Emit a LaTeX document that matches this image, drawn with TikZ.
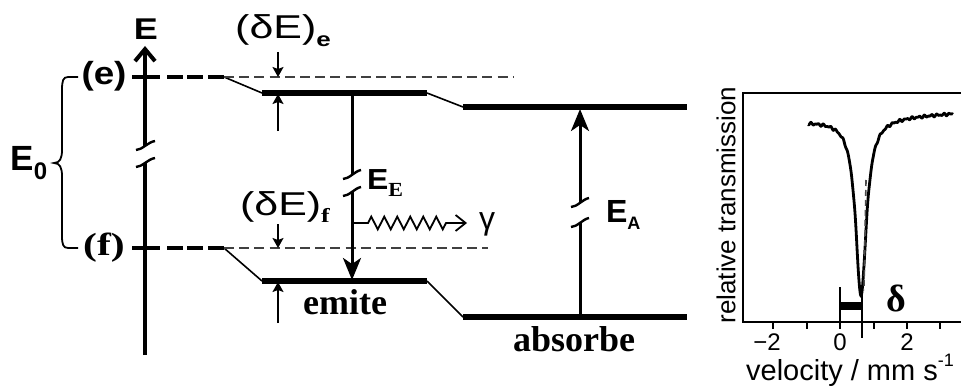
\documentclass[tikz,border=0pt]{standalone}
\usepackage{fontspec}
\setmainfont{Liberation Serif}
\setsansfont{Liberation Sans}
\usetikzlibrary{arrows.meta,decorations.pathmorphing}
\newcommand\fs[1]{\fontsize{#1}{#1}\selectfont}
\newcommand\lowsub[2]{\raisebox{-0.45ex}{\fontsize{#1}{#1}\selectfont #2}}
\newcommand\wide[2]{\scalebox{#1}[1]{#2}}
\tikzset{
  level/.style={line width=2.8pt},
  stub/.style={line width=2pt},
  thickdash/.style={line width=2.2pt, dash pattern=on 8pt off 2.2pt},
  thindash/.style={line width=0.7pt, black!75, dash pattern=on 5pt off 2.6pt},
  slope/.style={line width=0.8pt},
  trans/.style={line width=1.5pt},
  bigtip/.style={-{Stealth[length=11pt,width=9pt,inset=3pt]}},
  smallarrow/.style={line width=0.8pt, -{Stealth[length=5pt,width=5.5pt,inset=1pt]}},
  brk/.style={line width=1.2pt},
  lab/.style={inner sep=0pt, outer sep=0pt},
  frame/.style={line width=1.3pt},
}
\begin{document}
\begin{tikzpicture}[x=0.5pt,y=-0.5pt]
\useasboundingbox (0,0) rectangle (961,385);
% ---------- energy axis ----------
\coordinate (axbot) at (145,355);
\coordinate (axbrkA) at (145,163);
\coordinate (axbrkB) at (145,146);
\coordinate (axtop) at (145,46);
\draw[line width=2pt] (axbot) -- (axbrkA);
\draw[line width=2pt, -{Straight Barb[length=6pt,width=10pt]}] (axbrkB) -- (axtop);
\draw[brk] (136,167) .. controls (142,167) and (148,159) .. (155,158);
\draw[brk] (136,150) .. controls (142,150) and (148,142) .. (155,141);
\node[lab, font=\sffamily\bfseries\fs{15}] (Elab) at (146,29) {\wide{1.2}{E}};
% ---------- labels of levels ----------
\node[lab, font=\sffamily\bfseries\fs{16}] (elab) at (104,76) {\wide{1.15}{(e)}};
\node[lab, font=\rmfamily\bfseries\fs{16}] (flab) at (104,248) {\wide{1.3}{(f)}};
\node[lab, font=\sffamily\bfseries\fs{17.5}] (E0) at (29,163) {E\lowsub{12}{0}};
\draw[line width=0.9pt] (78,77) -- (68,77) .. controls (63,77) and (62,81) .. (62,90) -- (62,150)
  .. controls (62,158) and (60,163) .. (54,163) .. controls (60,163) and (62,168) .. (62,176)
  -- (62,236) .. controls (62,244) and (63,248) .. (68,248) -- (78,248);
% ---------- e level ----------
\coordinate (e0) at (132,77);
\coordinate (e1) at (160,77);
\coordinate (e2) at (167,77);
\coordinate (e3) at (224,77);
\coordinate (e4) at (262,93);
\coordinate (e5) at (427,93);
\coordinate (e6) at (463,107);
\coordinate (e7) at (687,107);
\coordinate (e8) at (513,77);
\draw[stub] (e0) -- (e1);
\draw[thickdash] (e2) -- (e3);
\draw[slope] (e3) -- (e4);
\draw[level] (e4) -- (e5);
\draw[slope] (e5) -- (e6);
\draw[level] (e6) -- (e7);
\draw[thindash] (e3) -- (e8);
% ---------- f level ----------
\coordinate (f0) at (132,248);
\coordinate (f1) at (160,248);
\coordinate (f2) at (167,248);
\coordinate (f3) at (224,248);
\coordinate (f4) at (262,281);
\coordinate (f5) at (427,281);
\coordinate (f6) at (463,317);
\coordinate (f7) at (687,317);
\coordinate (f8) at (488,248);
\draw[stub] (f0) -- (f1);
\draw[thickdash] (f2) -- (f3);
\draw[slope] (f3) -- (f4);
\draw[level] (f4) -- (f5);
\draw[slope] (f5) -- (f6);
\draw[level] (f6) -- (f7);
\draw[thindash] (f3) -- (f8);
% ---------- delta E labels and arrows ----------
\node[lab, font=\sffamily\fs{16.5}] (dEe) at (283,31) {\wide{1.3}{(δE)\lowsub{10}{\bfseries e}}};
\node[lab, font=\sffamily\fs{16.5}] (dEf) at (285,207) {\wide{1.3}{(δE)\lowsub{10}{\rmfamily\bfseries f}}};
\coordinate (ae1) at (278,52);  \coordinate (ae2) at (278,77);
\coordinate (ae3) at (278,131); \coordinate (ae4) at (278,94);
\coordinate (af1) at (278,224); \coordinate (af2) at (278,248);
\coordinate (af3) at (278,323); \coordinate (af4) at (278,282);
\draw[smallarrow] (ae1) -- (ae2);
\draw[smallarrow] (ae3) -- (ae4);
\draw[smallarrow] (af1) -- (af2);
\draw[smallarrow] (af3) -- (af4);
% ---------- emission ----------
\coordinate (em0) at (352,94);
\coordinate (em1) at (352,175);
\coordinate (em2) at (352,192);
\coordinate (em3) at (352,280);
\draw[trans] (em0) -- (em1);
\draw[trans, bigtip] (em2) -- (em3);
\draw[brk] (343,179) .. controls (349,179) and (355,171) .. (361,170);
\draw[brk] (343,196) .. controls (349,196) and (355,188) .. (361,187);
\node[lab, anchor=west, font=\sffamily\bfseries\fs{14.5}] (EE) at (367,183) {\wide{1.1}{E\lowsub{10}{\rmfamily\bfseries E}}};
\coordinate (g0) at (352,223);
\coordinate (g1) at (467,223);
\draw[line width=0.9pt, decorate, decoration={zigzag, segment length=6.5pt, amplitude=3.2pt, pre length=8pt, post length=8pt},
  -{Straight Barb[length=5pt,width=8pt]}] (g0) -- (g1);
\node[lab, font=\sffamily\fs{16}] (gam) at (487,224) {γ};
\node[lab, font=\rmfamily\bfseries\fs{18}] (emite) at (345,302) {emite};
% ---------- absorption ----------
\coordinate (ab0) at (580,317);
\coordinate (ab1) at (580,223);
\coordinate (ab2) at (580,203);
\coordinate (ab3) at (580,109);
\draw[trans] (ab0) -- (ab1);
\draw[trans, bigtip] (ab2) -- (ab3);
\draw[brk] (571,227) .. controls (577,227) and (583,219) .. (589,218);
\draw[brk] (571,207) .. controls (577,207) and (583,199) .. (589,198);
\node[lab, anchor=west, font=\sffamily\bfseries\fs{16}] (EA) at (606,215) {E\lowsub{9}{A}};
\node[lab, font=\rmfamily\bfseries\fs{18}] (absorbe) at (574,339) {absorbe};
% ---------- spectrum ----------
\coordinate (fr0) at (962,93);
\coordinate (fr1) at (743,93);
\coordinate (fr2) at (743,322);
\coordinate (fr3) at (962,322);
\draw[frame] (fr0) -- (fr1) -- (fr2) -- (fr3);
\foreach \t in {773,807,840,874,907,940} \draw[line width=1pt] (\t,322) -- (\t,329);
\draw[line width=1.4pt] plot[domain=808:953, samples=400, smooth]
  (\x, {121-8*(\x-808)/145+178/(((\x-861)/6.5)^2+1)+0.8*sin(57*(\x-800))+0.6*sin(89*(\x-800)+20)});
\draw[line width=0.8pt, black!70, dash pattern=on 3pt off 2pt] (866,180) -- (864,290);
\draw[line width=0.8pt] (840,287) -- (840,322);
\draw[line width=0.8pt] (862,293) -- (862,338);
\draw[line width=4pt] (840,306) -- (862,306);
\node[lab, font=\rmfamily\bfseries\fs{19}] (delta) at (896,298) {δ};
\node[lab, font=\sffamily\fs{12}] (tm2) at (767,342) {−2};
\node[lab, font=\sffamily\fs{12}] (t0) at (840,342) {0};
\node[lab, font=\sffamily\fs{12}] (t2) at (907,342) {2};
\node[lab, font=\sffamily\fs{14.5}] (xlab) at (850,370) {velocity / mm s\raisebox{0.9ex}{\fs{9}-1}};
\node[lab, font=\sffamily\fs{13}, rotate=90] (ylab) at (726,205) {relative transmission};
\end{tikzpicture}
\end{document}
